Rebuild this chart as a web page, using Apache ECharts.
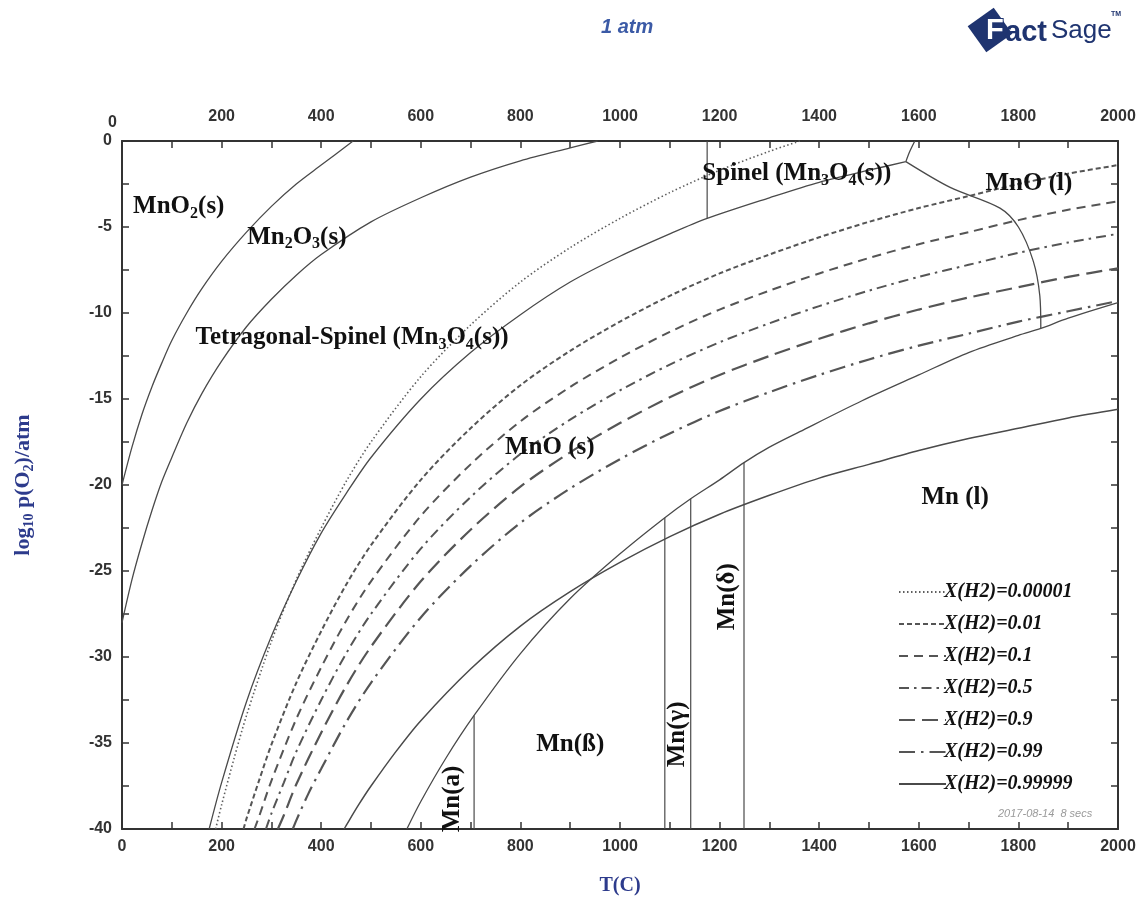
<!DOCTYPE html>
<html>
<head>
<meta charset="utf-8">
<script src="https://cdn.jsdelivr.net/npm/echarts/dist/echarts.min.js"></script>
<style>
html, body { margin: 0; padding: 0; background: #fff; }
#chart { width: 1147px; height: 914px; }
</style>
</head>
<body>
<div id="chart"></div>
<script>
// Mn–O predominance diagram at 1 atm: T (°C) vs log10 p(O2)/atm

// Phase boundaries, points are [T, log10 p(O2)]
const mno2ToMn2o3 = [[0,-20.0],[20,-17.8],[40,-15.9],[60,-14.3],[80,-12.9],[100,-11.6],[130,-10.0],[160,-8.6],[200,-7.0],[250,-5.3],[300,-3.8],[350,-2.5],[400,-1.4],[464,0]];
const mn2o3ToMn3o4 = [[0,-28.0],[20,-25.5],[40,-23.4],[60,-21.5],[80,-19.8],[100,-18.4],[130,-16.4],[160,-14.7],[200,-12.8],[250,-10.8],[300,-9.2],[350,-7.8],[400,-6.6],[500,-4.7],[600,-3.3],[700,-2.1],[800,-1.15],[900,-0.4],[955,0]];
const mn3o4ToMno = [[175,-40],[200,-37.3],[250,-32.6],[300,-28.8],[350,-25.6],[400,-22.8],[450,-20.5],[500,-18.4],[600,-15.0],[700,-12.3],[800,-10.1],[900,-8.2],[1000,-6.7],[1100,-5.4],[1175,-4.5],[1300,-3.3],[1400,-2.4],[1500,-1.7],[1574,-1.2]];
const spinelToLiquid = [[1574,-1.2],[1582,-0.6],[1592,0]];
const mnoSolidToLiquid = [[1574,-1.2],[1663,-2.7],[1763,-3.9],[1800,-5.0],[1830,-7.0],[1843,-9.0],[1845,-10.9]];
const mnoToMn = [[572,-40],[600,-38.4],[650,-35.9],[707,-33.4],[800,-29.8],[900,-26.6],[1000,-24.0],[1090,-21.9],[1142,-20.8],[1200,-19.7],[1249,-18.7],[1300,-17.8],[1361,-16.9],[1486,-15.1],[1600,-13.6],[1700,-12.3],[1800,-11.3],[1845,-10.9],[1900,-10.3],[2000,-9.4]];
const spinelTransition = [[1175,-4.5],[1175,0]];
const mnAlphaBeta = [[707,-40],[707,-33.4]];
const mnBetaGamma = [[1090,-40],[1090,-21.9]];
const mnGammaDelta = [[1142,-40],[1142,-20.8]];
const mnDeltaLiquid = [[1249,-40],[1249,-18.7]];

// H2/H2O gas equilibrium lines
const gasNames = ['X(H2)=0.00001','X(H2)=0.01','X(H2)=0.1','X(H2)=0.5','X(H2)=0.9','X(H2)=0.99','X(H2)=0.99999'];
const gasH2_000001 = [[188,-40],[200,-38.6],[225,-35.9],[250,-33.4],[300,-29.1],[350,-25.5],[400,-22.5],[450,-19.8],[500,-17.5],[600,-13.7],[700,-10.7],[800,-8.2],[900,-6.2],[1000,-4.5],[1100,-3.0],[1200,-1.7],[1300,-0.6],[1361,0]];
const gasH2_001 = [[244,-40],[250,-39.4],[275,-37.2],[300,-35.1],[350,-31.5],[400,-28.5],[450,-25.8],[500,-23.5],[600,-19.7],[700,-16.7],[800,-14.2],[900,-12.2],[1000,-10.5],[1100,-9.0],[1200,-7.7],[1300,-6.6],[1400,-5.6],[1500,-4.7],[1600,-3.9],[1700,-3.2],[1800,-2.5],[1900,-1.9],[2000,-1.4]];
const gasH2_01 = [[266,-40],[275,-39.3],[300,-37.2],[350,-33.6],[400,-30.6],[450,-27.9],[500,-25.6],[600,-21.8],[700,-18.8],[800,-16.3],[900,-14.3],[1000,-12.6],[1100,-11.1],[1200,-9.8],[1300,-8.7],[1400,-7.7],[1500,-6.8],[1600,-6.0],[1700,-5.3],[1800,-4.6],[1900,-4.0],[2000,-3.5]];
const gasH2_05 = [[289,-40],[300,-39.1],[325,-37.3],[350,-35.5],[400,-32.5],[450,-29.8],[500,-27.5],[600,-23.7],[700,-20.7],[800,-18.2],[900,-16.2],[1000,-14.5],[1100,-13.0],[1200,-11.7],[1300,-10.6],[1400,-9.6],[1500,-8.7],[1600,-7.9],[1700,-7.2],[1800,-6.5],[1900,-5.9],[2000,-5.4]];
const gasH2_09 = [[313,-40],[325,-39.2],[350,-37.4],[400,-34.4],[450,-31.7],[500,-29.4],[600,-25.6],[700,-22.6],[800,-20.1],[900,-18.1],[1000,-16.4],[1100,-14.9],[1200,-13.6],[1300,-12.5],[1400,-11.5],[1500,-10.6],[1600,-9.8],[1700,-9.1],[1800,-8.5],[1900,-7.9],[2000,-7.4]];
const gasH2_099 = [[343,-40],[350,-39.5],[375,-37.9],[400,-36.5],[450,-33.8],[500,-31.5],[600,-27.7],[700,-24.7],[800,-22.2],[900,-20.2],[1000,-18.5],[1100,-17.0],[1200,-15.7],[1300,-14.6],[1400,-13.6],[1500,-12.7],[1600,-11.9],[1700,-11.2],[1800,-10.5],[1900,-9.9],[2000,-9.3]];
const gasH2_099999 = [[446,-40],[450,-39.8],[475,-38.6],[500,-37.5],[550,-35.5],[600,-33.7],[700,-30.7],[800,-28.2],[900,-26.2],[1000,-24.5],[1100,-23.0],[1200,-21.7],[1300,-20.6],[1400,-19.6],[1500,-18.8],[1600,-18.0],[1700,-17.3],[1800,-16.7],[1900,-16.1],[2000,-15.6]];

// Phase field names ("_n" marks a subscript) with anchor [T, log10 p(O2)] and rotation
const fieldLabels = [
  ['MnO_2(s)', 114, -3.8, 0],
  ['Mn_2O_3(s)', 351, -5.6, 0],
  ['Tetragonal-Spinel (Mn_3O_4(s))', 462, -11.45, 0],
  ['Spinel (Mn_3O_4(s))', 1355, -1.9, 0],
  ['MnO (l)', 1821, -2.5, 0],
  ['MnO (s)', 859, -17.8, 0],
  ['Mn (l)', 1673, -20.75, 0],
  ['Mn(ß)', 900, -35.1, 0],
  ['Mn(a)', 663, -38.25, 90],
  ['Mn(γ)', 1116, -34.5, 90],
  ['Mn(δ)', 1215, -26.5, 90]
];

const LINE_GREY = '#4a4a4a';
const NAVY = '#1f3470';
const SERIF = '"Liberation Serif", "Times New Roman", serif';
const SANS = '"Liberation Sans", Arial, sans-serif';

function richMarkup(text) {
  const parts = text.split(/_(\d+)/);
  return parts.map((p, i) => (i % 2 ? '{s|' + p + '}' : (p ? '{m|' + p + '}' : ''))).join('');
}

function boundary(data) {
  return {
    type: 'line', data: data, showSymbol: false, symbol: 'none', smooth: 0.3,
    lineStyle: { color: LINE_GREY, width: 1.3 }, silent: true, z: 3
  };
}
function straight(data) {
  return {
    type: 'line', data: data, showSymbol: false, symbol: 'none',
    lineStyle: { color: LINE_GREY, width: 1.2 }, silent: true, z: 3
  };
}

const gasStyles = [
  { type: [1.5, 2.5], width: 1.6, color: '#5e5e5e' },
  { type: [5, 3], width: 2, color: '#555' },
  { type: [9, 6], width: 2, color: '#555' },
  { type: [10, 5, 2.5, 5], width: 2, color: '#555' },
  { type: [16, 7], width: 2.2, color: '#555' },
  { type: [16, 6, 2.5, 6], width: 2.2, color: '#555' },
  { type: 'solid', width: 1.5, color: '#4a4a4a' }
];
const gasData = [gasH2_000001, gasH2_001, gasH2_01, gasH2_05, gasH2_09, gasH2_099, gasH2_099999];

const series = [
  boundary(mno2ToMn2o3),
  boundary(mn2o3ToMn3o4),
  boundary(mn3o4ToMno),
  boundary(spinelToLiquid),
  boundary(mnoSolidToLiquid),
  boundary(mnoToMn),
  straight(spinelTransition),
  straight(mnAlphaBeta),
  straight(mnBetaGamma),
  straight(mnGammaDelta),
  straight(mnDeltaLiquid)
];
gasData.forEach((d, i) => {
  series.push({
    name: gasNames[i], type: 'line', data: d, showSymbol: false, symbol: 'none',
    smooth: 0.3, silent: true, z: 2,
    lineStyle: gasStyles[i], itemStyle: { color: gasStyles[i].color }
  });
});
series.push({
  type: 'scatter', symbolSize: 0, silent: true, z: 5,
  itemStyle: { opacity: 1 },
  data: fieldLabels.map(l => ({
    value: [l[1], l[2]],
    label: { formatter: richMarkup(l[0]), rotate: l[3] }
  })),
  label: {
    show: true, position: 'inside', color: '#111', opacity: 1,
    rich: {
      m: { fontFamily: SERIF, fontWeight: 'bold', fontSize: 25, lineHeight: 30, color: '#111' },
      s: { fontFamily: SERIF, fontWeight: 'bold', fontSize: 16, lineHeight: 10, verticalAlign: 'bottom', color: '#111' }
    }
  }
});

const axisLine = { onZero: false, lineStyle: { color: '#333', width: 2 } };
const axisTick = { inside: true, length: 7, lineStyle: { color: '#333', width: 1.5 } };
const tickLabel = { fontFamily: SANS, fontWeight: 'bold', fontSize: 16, color: '#333' };

const chart = echarts.init(document.getElementById('chart'), null, { renderer: 'canvas' });
chart.setOption({
  animation: false,
  backgroundColor: '#fff',
  title: {
    text: '1 atm', left: 596, top: 12,
    textStyle: { fontFamily: SANS, fontStyle: 'italic', fontWeight: 'bold', fontSize: 20, color: '#3b5aa6' }
  },
  grid: { left: 122, right: 29, top: 141, bottom: 85 },
  xAxis: [
    {
      type: 'value', position: 'bottom', min: 0, max: 2000, interval: 100,
      name: 'T(C)', nameLocation: 'middle', nameGap: 47,
      nameTextStyle: { fontFamily: SERIF, fontWeight: 'bold', fontSize: 20, color: '#2d3b8c' },
      axisLine, axisTick, splitLine: { show: false },
      axisLabel: Object.assign({ margin: 10, formatter: v => (v % 200 === 0 ? String(v) : '') }, tickLabel)
    },
    {
      type: 'value', position: 'top', min: 0, max: 2000, interval: 100,
      axisLine, axisTick, splitLine: { show: false },
      axisLabel: Object.assign({ margin: 16, formatter: v => (v % 200 === 0 && v > 0 ? String(v) : '') }, tickLabel)
    }
  ],
  yAxis: [
    {
      type: 'value', position: 'left', min: -40, max: 0, interval: 2.5,
      name: '{a|log}{b|10}{a| p(O}{b|2}{a|)/atm}', nameLocation: 'middle', nameGap: 86, nameRotate: 90,
      nameTextStyle: {
        rich: {
          a: { fontFamily: SERIF, fontWeight: 'bold', fontSize: 22, color: '#2d3b8c', lineHeight: 26 },
          b: { fontFamily: SERIF, fontWeight: 'bold', fontSize: 14, color: '#2d3b8c', lineHeight: 10, verticalAlign: 'bottom' }
        }
      },
      axisLine, axisTick, splitLine: { show: false },
      axisLabel: Object.assign({ margin: 10, formatter: v => (v % 5 === 0 ? String(v) : '') }, tickLabel)
    },
    {
      type: 'value', position: 'right', min: -40, max: 0, interval: 2.5,
      axisLine, axisTick, splitLine: { show: false },
      axisLabel: { show: false }
    }
  ],
  legend: {
    orient: 'vertical', left: 893, top: 577, itemWidth: 47, itemHeight: 14, itemGap: 12,
    selectedMode: false, data: gasNames,
    itemStyle: { opacity: 0 },
    textStyle: { fontFamily: SERIF, fontStyle: 'italic', fontWeight: 'bold', fontSize: 20, color: '#111', padding: [0, 0, 0, -7] }
  },
  graphic: [
    {
      // origin tick label of the top temperature scale
      type: 'text', left: 108, top: 115,
      style: { text: '0', fill: '#333', font: 'bold 16px ' + SANS }
    },
    {
      type: 'text', left: 998, top: 808,
      style: { text: '2017-08-14  8 secs', fill: '#9a9a9a', font: 'italic 11px ' + SANS }
    },
    {
      type: 'group',
      children: [
        { type: 'rect', shape: { x: -16, y: -16, width: 32, height: 32 }, x: 990, y: 30, rotation: 0.62, style: { fill: NAVY } },
        { type: 'text', x: 986, y: 31, style: { text: 'F', fill: '#ffffff', stroke: NAVY, lineWidth: 2, font: '900 29px ' + SANS, verticalAlign: 'middle' } },
        { type: 'text', x: 1005, y: 33, style: { text: 'act', fill: NAVY, font: '900 29px ' + SANS, verticalAlign: 'middle' } },
        { type: 'text', x: 1051, y: 31, style: { text: 'Sage', fill: NAVY, font: '26px ' + SANS, verticalAlign: 'middle' } },
        { type: 'text', x: 1111, y: 14, style: { text: 'TM', fill: NAVY, font: 'bold 7px ' + SANS, verticalAlign: 'middle' } }
      ]
    }
  ],
  series: series
});
</script>
</body>
</html>
